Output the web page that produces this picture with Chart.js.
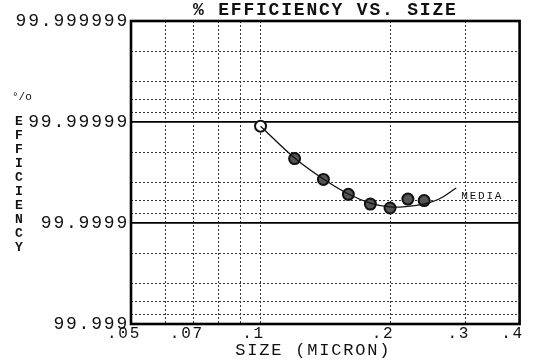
<!DOCTYPE html>
<html>
<head>
<meta charset="utf-8">
<script src="https://cdn.jsdelivr.net/npm/chart.js@4.4.0/dist/chart.umd.min.js"></script>
<style>
  html, body { margin: 0; padding: 0; background: #fff; }
</style>
</head>
<body>
<canvas id="c" width="533" height="363"></canvas>
<script>
// Particle size (micron) of each measured point
const sizes = [0.10, 0.12, 0.14, 0.16, 0.18, 0.20, 0.22, 0.24];
// Measured collection efficiency (%) at each size
const efficiency = [99.999989, 99.999977, 99.999963, 99.999948, 99.999935, 99.999929, 99.999942, 99.999940];

// Fitted curve for the filter media
const mediaSizes = [0.10, 0.12, 0.14, 0.16, 0.18, 0.20, 0.22, 0.24, 0.26, 0.285];
const mediaEfficiency = [99.999989, 99.9999773, 99.9999633, 99.9999484, 99.9999366, 99.9999306, 99.9999314, 99.9999352, 99.9999421, 99.999955];

// Axis ticks and grid
const xTickValues = [0.05, 0.07, 0.1, 0.2, 0.3, 0.4];
const xTickLabels = ['.05', '.07', '.1', '.2', '.3', '.4'];
const xMinorGrid = [0.06, 0.08, 0.09];
const yTickEfficiency = [99.999999, 99.99999, 99.9999, 99.999];
const yTickLabels = ['99.999999', '99.99999', '99.9999', '99.999'];
const yMinorSteps = [2, 4, 6, 8];

const chartTitle = '% EFFICIENCY VS. SIZE';
const xTitle = 'SIZE (MICRON)';
const yTitle = 'EFFICIENCY';
const percentSign = '°/o';
const mediaLabel = 'MEDIA';

const FONT = 'Liberation Mono';
const INK = '#111';
const SPACING = '1.8px';

// Efficiency is plotted as penetration (100 - efficiency) on a reversed log axis
const pen = e => Number((100 - e).toPrecision(6));

const yDecades = yTickEfficiency.map(pen);
const yGridValues = [];
yDecades.forEach((d, i) => {
  yGridValues.push(d);
  if (i < yDecades.length - 1) {
    yMinorSteps.forEach(k => yGridValues.push(Number((d * k).toPrecision(6))));
  }
});
const isDecade = v => yDecades.some(d => Math.abs(v - d) / d < 1e-6);
const xGridValues = xTickValues.concat(xMinorGrid).sort((a, b) => a - b);

const points = sizes.map((s, i) => ({ x: s, y: pen(efficiency[i]) }));
const curve = mediaSizes.map((s, i) => ({ x: s, y: pen(mediaEfficiency[i]) }));

// Wide, typewriter-like lettering
const letterSpacing = {
  id: 'letterSpacing',
  beforeLayout(chart) { chart.ctx.letterSpacing = SPACING; },
  beforeDraw(chart) { chart.ctx.letterSpacing = SPACING; }
};

// Heavy frame round the plot area
const frame = {
  id: 'frame',
  beforeDatasetsDraw(chart) {
    const { ctx, chartArea: a } = chart;
    ctx.save();
    ctx.setLineDash([]);
    ctx.strokeStyle = '#000';
    ctx.lineWidth = 2.6;
    ctx.strokeRect(a.left, a.top, a.right - a.left, a.bottom - a.top);
    ctx.restore();
  }
};

// Stacked y title, percent sign and curve label
const annotations = {
  id: 'annotations',
  afterDraw(chart) {
    const { ctx, scales: { y } } = chart;
    ctx.save();
    ctx.fillStyle = INK;
    ctx.textAlign = 'left';
    ctx.textBaseline = 'middle';

    const top = y.getPixelForValue(yDecades[1]);
    ctx.letterSpacing = '0px';
    ctx.font = `bold 13px "${FONT}"`;
    yTitle.split('').forEach((ch, i) => ctx.fillText(ch, 15, top + i * 14));

    ctx.font = `11px "${FONT}"`;
    ctx.fillText(percentSign, 12, top - 25);

    const meta = chart.getDatasetMeta(0);
    const last = meta.data[meta.data.length - 1];
    ctx.letterSpacing = SPACING;
    ctx.font = `11px "${FONT}"`;
    ctx.fillText(mediaLabel, last.x + 5, last.y + 8);
    ctx.restore();
  }
};

new Chart(document.getElementById('c'), {
  type: 'scatter',
  data: {
    datasets: [
      {
        label: mediaLabel,
        data: curve,
        showLine: true,
        borderColor: INK,
        borderWidth: 1.3,
        pointRadius: 0,
        tension: 0.4,
        fill: false
      },
      {
        label: 'Measured',
        data: points,
        showLine: false,
        pointRadius: 5.5,
        pointBorderWidth: 2,
        pointBorderColor: '#111',
        pointBackgroundColor: c => c.dataIndex === 0 ? '#fff' : '#555'
      }
    ]
  },
  options: {
    responsive: false,
    animation: false,
    devicePixelRatio: 1,
    layout: { padding: { left: 0, right: 12, top: 0, bottom: 0 } },
    plugins: {
      legend: { display: false },
      tooltip: { enabled: false },
      title: {
        display: true,
        text: chartTitle,
        fullSize: false,
        color: INK,
        font: { family: FONT, size: 18, weight: 'bold', lineHeight: 1 },
        padding: { top: 1, bottom: 2 }
      }
    },
    scales: {
      x: {
        type: 'logarithmic',
        min: 0.05,
        max: 0.4,
        afterBuildTicks: s => { s.ticks = xGridValues.map(v => ({ value: v })); },
        afterFit: s => { s.height = 39; },
        border: { display: false, dash: c => c.tick ? [2, 2] : [] },
        grid: { color: '#333', lineWidth: 1, drawTicks: false },
        ticks: {
          autoSkip: false,
          maxRotation: 0,
          padding: 2,
          labelOffset: -7,
          color: INK,
          font: { family: FONT, size: 16, lineHeight: 1 },
          callback: v => {
            const i = xTickValues.findIndex(t => Math.abs(t - v) / t < 1e-6);
            return i >= 0 ? xTickLabels[i] : '';
          }
        },
        title: {
          display: true,
          text: xTitle + '  ',
          color: INK,
          font: { family: FONT, size: 17, lineHeight: 1.2 },
          padding: { top: 0, bottom: 2 }
        }
      },
      y: {
        type: 'logarithmic',
        reverse: true,
        min: yDecades[0],
        max: yDecades[yDecades.length - 1],
        afterBuildTicks: s => { s.ticks = yGridValues.map(v => ({ value: v })); },
        afterFit: s => { s.width = 131; },
        border: { display: false, dash: c => (c.tick && !isDecade(c.tick.value)) ? [2, 2] : [] },
        grid: {
          drawTicks: false,
          color: c => (c.tick && isDecade(c.tick.value)) ? '#000' : '#333',
          lineWidth: c => (c.tick && isDecade(c.tick.value)) ? 1.8 : 1
        },
        ticks: {
          autoSkip: false,
          padding: 2,
          color: INK,
          font: { family: FONT, size: 18, lineHeight: 1 },
          callback: v => {
            const i = yDecades.findIndex(d => Math.abs(d - v) / d < 1e-6);
            return i >= 0 ? yTickLabels[i] : '';
          }
        }
      }
    }
  },
  plugins: [letterSpacing, frame, annotations]
});
</script>
</body>
</html>
